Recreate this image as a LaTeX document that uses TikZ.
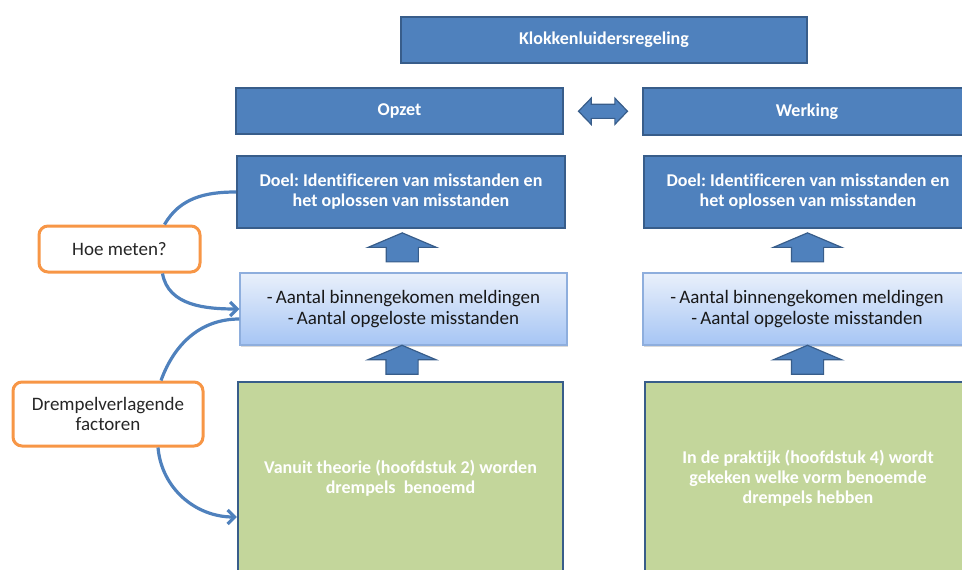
\documentclass[tikz,border=0pt]{standalone}
\usepackage{fontspec}
\setmainfont{Carlito}[Ligatures=NoCommon]
\frenchspacing
\usetikzlibrary{arrows.meta,calc,shapes.arrows,shadows}
\definecolor{blok}{HTML}{4F81BD}
\definecolor{rand}{HTML}{385D8A}
\definecolor{licht}{HTML}{E9F0FB}
\definecolor{lichtonder}{HTML}{A6C5F4}
\definecolor{lichtrand}{HTML}{8EAEDD}
\definecolor{groen}{HTML}{C3D69B}
\definecolor{oranje}{HTML}{F79646}
\begin{document}
\begin{tikzpicture}[x=1pt,y=-1pt,>={Straight Barb[length=7pt,width=14pt]},
  kop/.style={draw=rand,line width=2.4pt,fill=blok,text=white,align=center,
    font=\fontsize{18}{20}\selectfont\bfseries,inner sep=0pt},
  meet/.style={draw=lichtrand,line width=1.2pt,top color=licht,bottom color=lichtonder,
    align=center,text=black!90,font=\fontsize{19}{21}\selectfont,inner sep=0pt,
    drop shadow={opacity=0.3,shadow xshift=1pt,shadow yshift=-2pt}},
  groenblok/.style={draw=rand,line width=2.4pt,fill=groen,text=white,align=center,
    font=\fontsize{18}{20}\selectfont\bfseries,inner sep=0pt},
  vraag/.style={draw=oranje,line width=3pt,fill=white,rounded corners=9pt,align=center,
    text=black!85,font=\fontsize{19}{20.5}\selectfont,inner sep=0pt},
  blokpijl/.style={single arrow,draw=rand,line width=1.2pt,fill=blok,shape border rotate=90,
    minimum height=29pt,minimum width=67pt,single arrow head extend=18pt,
    single arrow tip angle=134,inner xsep=15.5pt,inner ysep=0pt},
  bocht/.style={draw=blok,line width=3.2pt}]
  \useasboundingbox (0,0) rectangle (962,570);
  \clip (0,0) rectangle (962,570);
  \node[kop,minimum width=406pt,minimum height=46pt] (regeling) at (604,40) {Klokkenluidersregeling};
  \node[kop,minimum width=327pt,minimum height=46pt] (opzet) at (399.5,111) {Opzet};
  \node[kop,minimum width=328pt,minimum height=47pt] (werking) at (807,111.5) {Werking};
  \node[kop,minimum width=328pt,minimum height=72pt] (doelL) at (401,192) {Doel: Identificeren van misstanden en\\het oplossen van misstanden};
  \node[kop,minimum width=328pt,minimum height=72pt] (doelR) at (808,192) {Doel: Identificeren van misstanden en\\het oplossen van misstanden};
  \node[meet,minimum width=327pt,minimum height=72pt] (meetL) at (403.5,309) {-\,Aantal binnengekomen meldingen\\-\,Aantal opgeloste misstanden};
  \node[meet,minimum width=328pt,minimum height=72pt] (meetR) at (807,309) {-\,Aantal binnengekomen meldingen\\-\,Aantal opgeloste misstanden};
  \node[groenblok,minimum width=325pt,minimum height=192pt] (groenL) at (400.5,478) {Vanuit theorie (hoofdstuk 2) worden\\drempels\ \ benoemd};
  \node[groenblok,minimum width=326pt,minimum height=192pt] (groenR) at (808,478) {In de praktijk (hoofdstuk 4) wordt\\gekeken welke vorm benoemde\\drempels hebben};
  \node[vraag,minimum width=161pt,minimum height=46pt] (hoe) at (119.5,249) {Hoe meten?};
  \node[vraag,minimum width=190pt,minimum height=64pt] (drempel) at (108,414) {Drempelverlagende\\factoren};
  \node[double arrow,draw=rand,line width=1.2pt,fill=blok,minimum height=49pt,minimum width=25pt,
    double arrow head extend=6pt,double arrow tip angle=92,inner xsep=0pt,inner ysep=6.5pt] (wissel) at ($(opzet.east)!0.5!(werking.west)$) {};
  \node[blokpijl] (pijlL1) at ($(meetL.north)!0.5!(doelL.south)$) {};
  \node[blokpijl] (pijlL2) at ($(groenL.north)!0.5!(meetL.south)$) {};
  \node[blokpijl] (pijlR1) at ($(meetR.north)!0.5!(doelR.south)$) {};
  \node[blokpijl] (pijlR2) at ($(groenR.north)!0.5!(meetR.south)$) {};
  \draw[bocht] (doelL.west) to[out=180,in=60] ([xshift=45pt]hoe.north);
  \draw[bocht,->] ([xshift=43pt]hoe.south) to[out=-80,in=180] (meetL.west);
  \draw[bocht] ([yshift=-10pt]meetL.west) to[out=180,in=70] ([xshift=53pt]drempel.north);
  \draw[bocht,->] ([xshift=50pt]drempel.south) to[out=-85,in=180] ([yshift=-39pt]groenL.west);
\end{tikzpicture}
\end{document}
